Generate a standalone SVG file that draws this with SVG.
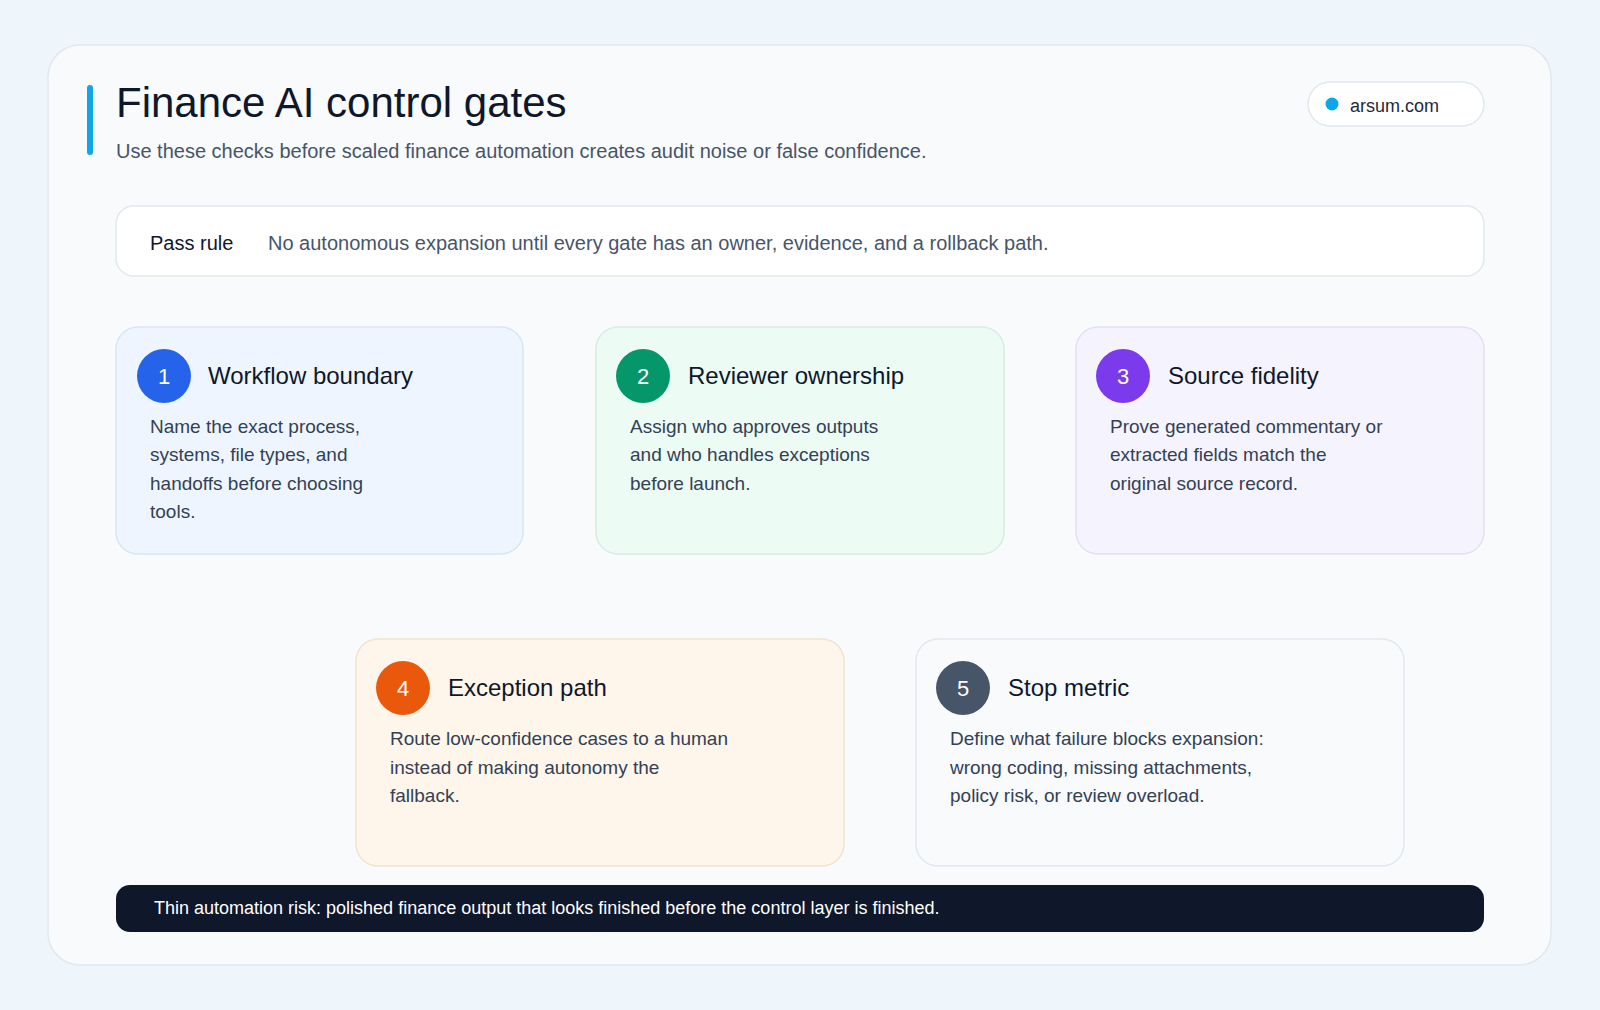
<svg xmlns="http://www.w3.org/2000/svg" width="1600" height="1010" viewBox="0 0 1600 1010">
<style>
text{font-family:"Liberation Sans",Arial,sans-serif}
.t{font-size:24px;fill:#0f172a}
.b{font-size:19px;fill:#334155}
.n{font-size:22px;fill:#fff;text-anchor:middle}
.card{stroke-width:1.5}
</style>
<rect width="1600" height="1010" fill="#eef5fb"/>
<rect x="48" y="45" width="1503" height="920" rx="32" fill="#f8fafc" stroke="#e2e8f0" stroke-width="1.5"/>
<g id="header">
<rect x="87" y="85" width="6" height="70" rx="3" fill="#0ea5e9"/>
<text x="116" y="117" font-size="42" fill="#0f172a">Finance AI control gates</text>
<text x="116" y="158" font-size="20" fill="#475569">Use these checks before scaled finance automation creates audit noise or false confidence.</text>
</g>
<g id="badge">
<rect x="1308" y="82" width="176" height="44" rx="22" fill="#fff" stroke="#e2e8f0" stroke-width="1.5"/>
<circle cx="1332" cy="104" r="6.5" fill="#0ea5e9"/>
<text x="1350" y="112" font-size="18" fill="#1e293b">arsum.com</text>
</g>
<g id="passrule">
<rect x="116" y="206" width="1368" height="70" rx="18" fill="#fff" stroke="#e2e8f0" stroke-width="1.5"/>
<text x="150" y="250" font-size="20" fill="#0f172a">Pass rule</text>
<text x="268" y="250" font-size="20" fill="#475569">No autonomous expansion until every gate has an owner, evidence, and a rollback path.</text>
</g>
<g id="gate1">
<rect class="card" x="116" y="327" width="407" height="227" rx="22" fill="#eef5fe" stroke="#dbe5f3"/>
<circle cx="164" cy="376" r="27" fill="#2563eb"/><text class="n" x="164" y="384">1</text>
<text class="t" x="208" y="384">Workflow boundary</text>
<text class="b" x="150" y="433">Name the exact process,</text>
<text class="b" x="150" y="461">systems, file types, and</text>
<text class="b" x="150" y="490">handoffs before choosing</text>
<text class="b" x="150" y="518">tools.</text>
</g>
<g id="gate2">
<rect class="card" x="596" y="327" width="408" height="227" rx="22" fill="#ecfbf3" stroke="#d5eee2"/>
<circle cx="643" cy="376" r="27" fill="#059669"/><text class="n" x="643" y="384">2</text>
<text class="t" x="688" y="384">Reviewer ownership</text>
<text class="b" x="630" y="433">Assign who approves outputs</text>
<text class="b" x="630" y="461">and who handles exceptions</text>
<text class="b" x="630" y="490">before launch.</text>
</g>
<g id="gate3">
<rect class="card" x="1076" y="327" width="408" height="227" rx="22" fill="#f5f3fe" stroke="#e4e0f3"/>
<circle cx="1123" cy="376" r="27" fill="#7c3aed"/><text class="n" x="1123" y="384">3</text>
<text class="t" x="1168" y="384">Source fidelity</text>
<text class="b" x="1110" y="433">Prove generated commentary or</text>
<text class="b" x="1110" y="461">extracted fields match the</text>
<text class="b" x="1110" y="490">original source record.</text>
</g>
<g id="gate4">
<rect class="card" x="356" y="639" width="488" height="227" rx="22" fill="#fef6ea" stroke="#f1e4cf"/>
<circle cx="403" cy="688" r="27" fill="#ea580c"/><text class="n" x="403" y="696">4</text>
<text class="t" x="448" y="696">Exception path</text>
<text class="b" x="390" y="745">Route low-confidence cases to a human</text>
<text class="b" x="390" y="774">instead of making autonomy the</text>
<text class="b" x="390" y="802">fallback.</text>
</g>
<g id="gate5">
<rect class="card" x="916" y="639" width="488" height="227" rx="22" fill="#f8fafc" stroke="#e2e8f0"/>
<circle cx="963" cy="688" r="27" fill="#475569"/><text class="n" x="963" y="696">5</text>
<text class="t" x="1008" y="696">Stop metric</text>
<text class="b" x="950" y="745">Define what failure blocks expansion:</text>
<text class="b" x="950" y="774">wrong coding, missing attachments,</text>
<text class="b" x="950" y="802">policy risk, or review overload.</text>
</g>
<g id="risk">
<rect x="116" y="885" width="1368" height="47" rx="14" fill="#0f172a"/>
<text x="154" y="914" font-size="18" fill="#fff">Thin automation risk: polished finance output that looks finished before the control layer is finished.</text>
</g>
<g id="connectors"/>
</svg>
